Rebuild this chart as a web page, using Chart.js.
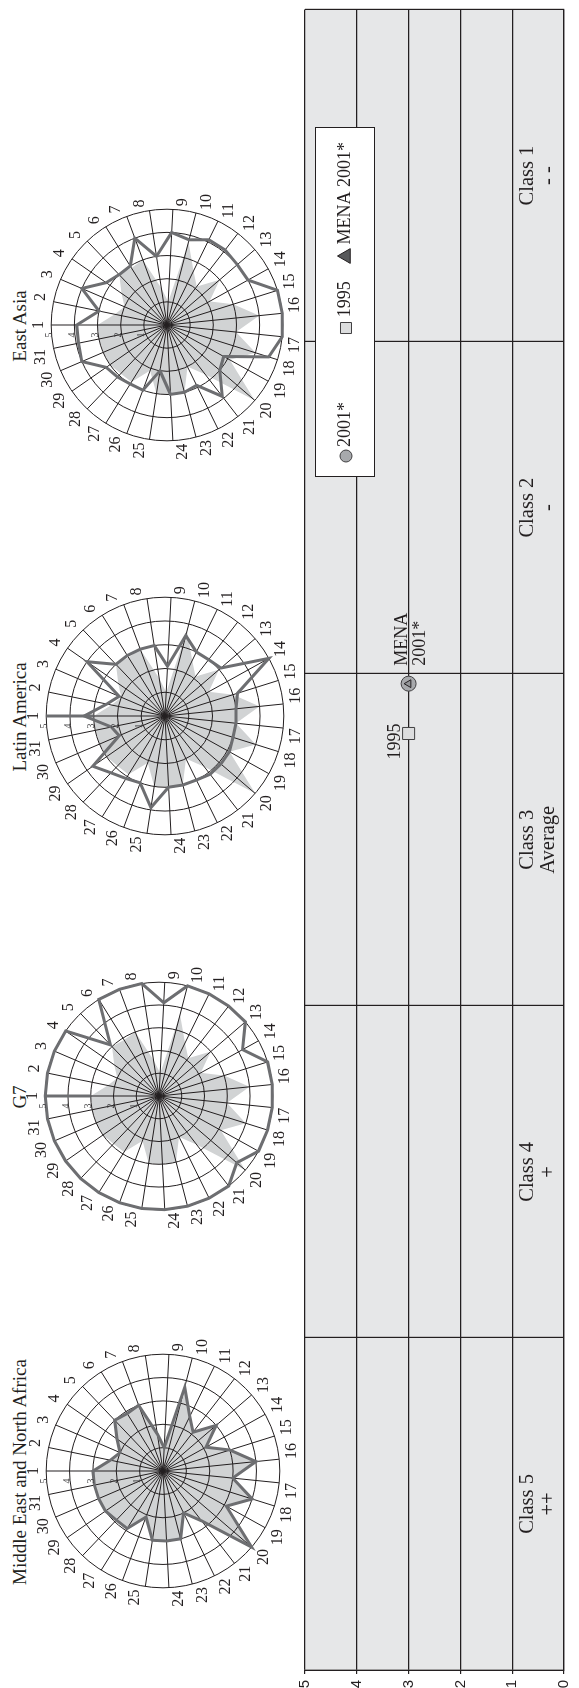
<!DOCTYPE html>
<html>
<head>
<meta charset="utf-8">
<script src="https://cdn.jsdelivr.net/npm/chart.js@4.4.0/dist/chart.umd.min.js"></script>
<style>
  html, body { margin: 0; padding: 0; background: #fff; }
  body { width: 579px; height: 1688px; overflow: hidden; position: relative; }
  /* the figure is laid out landscape and turned a quarter turn counter-clockwise */
  #stage { position: absolute; left: 0; top: 0; width: 1688px; height: 579px;
           transform-origin: 0 0; transform: translate(0, 1688px) rotate(-90deg); background: #fff; }
  .radar { position: absolute; }
  .title { position: absolute; top: 9px; font-family: 'Liberation Serif', serif; font-size: 19px;
           line-height: 22px; color: #231f20; white-space: nowrap; transform: translateX(-50%); }
  #band { position: absolute; left: 0; top: 290px; }
</style>
</head>
<body>
<div id="stage">
  <div class="title" style="left:216px">Middle East and North Africa</div>
  <div class="title" style="left:591px">G7</div>
  <div class="title" style="left:971px">Latin America</div>
  <div class="title" style="left:1362px">East Asia</div>
  <canvas id="radarMena" class="radar"></canvas>
  <canvas id="radarG7" class="radar"></canvas>
  <canvas id="radarLatin" class="radar"></canvas>
  <canvas id="radarEastAsia" class="radar"></canvas>
  <canvas id="band" width="1688" height="289"></canvas>
</div>
<script>
// ---- indicator profiles (31 indicators, score 0-5) ----
const spokes = ['1','2','3','4','5','6','7','8','9','10','11','12','13','14','15','16',
                '17','18','19','20','21','22','23','24','25','26','27','28','29','30','31'];
const ringTicks = ['1', '2', '3', '4', '5'];

const menaScores     = [3.0, 2.3, 2.0, 2.4, 3.0, 2.9, 3.0, 1.6, 1.0, 3.7, 2.6, 2.1, 3.0, 2.1, 3.0, 4.0,
                        3.0, 4.0, 3.1, 5.0, 2.7, 2.0, 3.0, 3.0, 3.0, 2.1, 2.9, 2.9, 3.0, 3.0, 3.0];
const g7Scores       = [5.0, 5.0, 5.0, 5.0, 3.1, 5.0, 5.0, 5.0, 4.1, 5.0, 5.0, 5.0, 5.0, 4.2, 5.0, 5.0,
                        5.0, 5.0, 5.0, 4.5, 5.0, 5.0, 5.0, 5.0, 5.0, 5.0, 5.0, 5.0, 5.0, 5.0, 5.0];
const latinScores    = [3.4, 2.5, 2.1, 4.0, 3.0, 3.0, 3.0, 3.0, 2.1, 3.5, 3.0, 3.0, 3.1, 5.0, 3.2, 3.0,
                        3.0, 3.0, 3.1, 3.1, 3.1, 3.0, 3.0, 3.0, 3.9, 3.0, 3.1, 3.3, 3.7, 2.1, 2.3];
const eastAsiaScores = [3.9, 3.0, 4.0, 3.2, 3.0, 3.0, 4.0, 3.0, 4.0, 3.8, 4.1, 4.1, 4.0, 4.0, 5.0, 5.0,
                        5.0, 4.6, 2.8, 3.0, 3.9, 2.9, 3.0, 3.0, 2.0, 3.0, 3.0, 3.1, 3.2, 4.0, 3.9];

// ---- class band ----
const classNames = ['Class 5', 'Class 4', 'Class 3', 'Class 2', 'Class 1'];
const classMarks = ['++', '+', 'Average', '-', '- -'];
const bandTicks  = [0, 1, 2, 3, 4, 5];
const menaLevel  = 3;
const mena1995   = 2.82;
const mena2001   = 2.97;
const markNotes  = { '1995': ['1995'], 'MENA 2001*': ['MENA', '2001*'] };
const legendOrder = ['2001*', '1995', 'MENA 2001*'];

Chart.defaults.font.family = "'Liberation Serif', serif";
Chart.defaults.color = '#231f20';

const INK = '#231f20';
const LINE_GREY = '#6d6e71';
const FILL_GREY = '#d1d3d4';

// small value labels beside the first spoke
const ringLabels = {
  id: 'ringLabels',
  afterDraw(chart) {
    const r = chart.scales.r, ctx = chart.ctx;
    ctx.save();
    ctx.font = "10px 'Liberation Serif'";
    ctx.fillStyle = '#414042';
    ctx.textAlign = 'center';
    ctx.textBaseline = 'middle';
    ringTicks.forEach(t => {
      const d = r.getDistanceFromCenterForValue(Number(t));
      ctx.fillText(t, r.xCenter - 10, r.yCenter - d - 2);
    });
    ctx.restore();
  }
};

// grey lead along the first spoke, from the rim down to the shaded profile
const spokeLead = {
  id: 'spokeLead',
  afterDatasetsDraw(chart, args, opts) {
    if (!opts.show) return;
    const r = chart.scales.r, ctx = chart.ctx;
    const a = r.getPointPositionForValue(0, 5);
    const b = r.getPointPositionForValue(0, chart.data.datasets[1].data[0]);
    ctx.save();
    ctx.strokeStyle = LINE_GREY;
    ctx.lineWidth = 3;
    ctx.beginPath();
    ctx.moveTo(a.x, a.y);
    ctx.lineTo(b.x, b.y);
    ctx.stroke();
    ctx.restore();
  }
};

function makeRadar(id, cx, cy, size, scores, lead) {
  const el = document.getElementById(id);
  el.width = size; el.height = size;
  el.style.left = (cx - size / 2) + 'px';
  el.style.top = (cy - size / 2) + 'px';
  return new Chart(el, {
    type: 'radar',
    data: {
      labels: spokes,
      datasets: [
        { label: 'region', data: scores, borderColor: LINE_GREY, borderWidth: 3,
          borderJoinStyle: 'miter', backgroundColor: 'rgba(0,0,0,0)', fill: false, pointRadius: 0 },
        { label: 'MENA', data: menaScores, borderColor: 'rgba(0,0,0,0)', borderWidth: 1,
          backgroundColor: FILL_GREY, fill: 'origin', pointRadius: 0 }
      ]
    },
    options: {
      responsive: false, animation: false, devicePixelRatio: 1, events: [],
      plugins: {
        legend: { display: false }, tooltip: { enabled: false },
        filler: { drawTime: 'beforeDraw' },
        spokeLead: { show: lead }
      },
      scales: {
        r: {
          min: 0, max: 5,
          ticks: { stepSize: 1, display: false },
          grid: { color: INK, lineWidth: 1, circular: true },
          angleLines: { color: INK, lineWidth: 1 },
          pointLabels: { font: { family: "'Liberation Serif', serif", size: 16 }, color: INK, padding: 3 }
        }
      }
    },
    plugins: [ringLabels, spokeLead]
  });
}

makeRadar('radarMena', 216, 163, 278, menaScores, false);
makeRadar('radarG7', 591, 159, 272, g7Scores, true);
makeRadar('radarLatin', 971, 165, 282, latinScores, true);
makeRadar('radarEastAsia', 1362, 167, 276, eastAsiaScores, false);

// ---- band chart plugins ----
const bandBackground = {
  id: 'bandBackground',
  beforeDraw(chart) {
    const { ctx, chartArea: a } = chart;
    ctx.save();
    ctx.fillStyle = '#e6e7e8';
    ctx.fillRect(a.left, a.top, a.right - a.left, a.bottom - a.top);
    ctx.restore();
  }
};

const classLabels = {
  id: 'classLabels',
  afterDatasetsDraw(chart) {
    const { ctx, chartArea: a, scales: { x } } = chart;
    ctx.save();
    ctx.font = "20.5px 'Liberation Serif'";
    ctx.fillStyle = INK;
    ctx.textAlign = 'center';
    ctx.textBaseline = 'alphabetic';
    classNames.forEach((name, i) => {
      const px = x.getPixelForValue(i + 0.5);
      ctx.fillText(name, px, a.bottom - 31);
      ctx.fillText(classMarks[i], px, a.bottom - 10);
    });
    ctx.restore();
  }
};

const markLabels = {
  id: 'markLabels',
  afterDatasetsDraw(chart) {
    const ctx = chart.ctx;
    ctx.save();
    ctx.font = "18px 'Liberation Serif'";
    ctx.fillStyle = INK;
    ctx.textBaseline = 'alphabetic';
    chart.data.datasets.forEach((ds, i) => {
      const notes = markNotes[ds.label];
      if (!notes) return;
      const pt = chart.getDatasetMeta(i).data[0];
      if (notes.length === 1) {
        ctx.textAlign = 'center';
        ctx.fillText(notes[0], pt.x - 8, pt.y - 9);
      } else {
        ctx.textAlign = 'left';
        ctx.fillText(notes[0], pt.x + 18, pt.y - 2);
        ctx.fillText(notes[1], pt.x + 18, pt.y + 16);
      }
    });
    ctx.restore();
  }
};

const boxedLegend = {
  id: 'boxedLegend',
  afterDraw(chart) {
    const { ctx, chartArea: a } = chart;
    const left = a.left + 1193, top = a.top + 10, w = 349, h = 59;
    ctx.save();
    ctx.fillStyle = '#fff';
    ctx.fillRect(left, top, w, h);
    ctx.strokeStyle = INK;
    ctx.lineWidth = 1;
    ctx.strokeRect(left + 0.5, top + 0.5, w, h);
    const slots = [{ x: left + 21, r: 6 }, { x: left + 149, r: 7.8 }, { x: left + 221, r: 8.5 }];
    const midY = top + 30;
    ctx.font = "18px 'Liberation Serif'";
    ctx.textBaseline = 'middle';
    ctx.textAlign = 'left';
    legendOrder.forEach((name, k) => {
      const ds = chart.data.datasets.find(d => d.label === name);
      const s = slots[k];
      ctx.fillStyle = name === 'MENA 2001*' ? '#58595b' : ds.backgroundColor;
      ctx.strokeStyle = ds.borderColor;
      ctx.lineWidth = 1;
      Chart.helpers.drawPoint(ctx, { pointStyle: ds.pointStyle, radius: s.r, borderWidth: 1, rotation: 0 }, s.x, midY + 1);
      ctx.fillStyle = INK;
      ctx.fillText(name, s.x + s.r + 3, midY);
    });
    ctx.restore();
  }
};

new Chart(document.getElementById('band'), {
  type: 'scatter',
  data: {
    datasets: [
      { label: 'MENA 2001*', data: [{ x: mena2001, y: menaLevel }], pointStyle: 'triangle',
        pointRadius: 4.5, backgroundColor: '#939598', borderColor: INK, borderWidth: 1, order: 0 },
      { label: '2001*', data: [{ x: mena2001, y: menaLevel }], pointStyle: 'circle',
        pointRadius: 7.5, backgroundColor: '#a7a9ac', borderColor: '#414042', borderWidth: 1, order: 1 },
      { label: '1995', data: [{ x: mena1995, y: menaLevel }], pointStyle: 'rect',
        pointRadius: 8.5, backgroundColor: '#dcddde', borderColor: '#414042', borderWidth: 1, order: 2 }
    ]
  },
  options: {
    responsive: false, animation: false, devicePixelRatio: 1, events: [],
    layout: { padding: { top: 12, right: 3, bottom: 1, left: 0 } },
    plugins: { legend: { display: false }, tooltip: { enabled: false } },
    scales: {
      x: {
        type: 'linear', min: 0, max: 5,
        ticks: { display: false, stepSize: 1 },
        grid: { color: INK, lineWidth: 1.2, drawTicks: false },
        border: { display: true, color: INK, width: 1.2 },
        afterFit(s) { s.height = 0; }
      },
      y: {
        type: 'linear', min: 0, max: 5,
        afterBuildTicks(s) { s.ticks = bandTicks.map(v => ({ value: v })); },
        ticks: { padding: 6, color: INK, font: { family: "'Liberation Sans', sans-serif", size: 15 } },
        grid: { color: INK, lineWidth: 1.2, tickLength: 4 },
        border: { display: true, color: INK, width: 1.2 },
        afterFit(s) { s.width = 18; }
      }
    }
  },
  plugins: [bandBackground, classLabels, markLabels, boxedLegend]
});
</script>
</body>
</html>
